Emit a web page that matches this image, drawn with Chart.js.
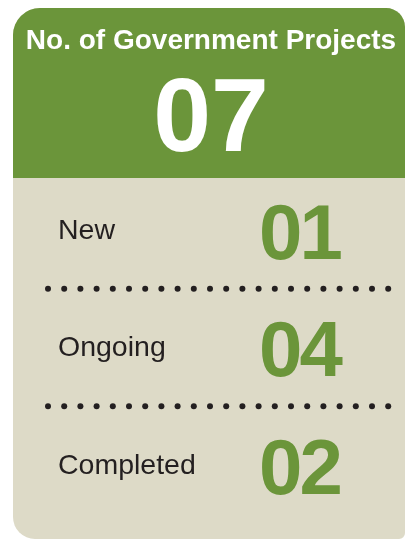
<!DOCTYPE html>
<html>
<head>
<meta charset="utf-8">
<style>
  html, body { margin: 0; padding: 0; background: #fff; }
  canvas { display: block; }
</style>
<script src="https://cdn.jsdelivr.net/npm/chart.js@4.4.0/dist/chart.umd.min.js"></script>
</head>
<body>
<canvas id="myChart" width="406" height="542"></canvas>
<script>
var cardTitle = 'No. of Government Projects';
var totalProjects = 7;
var categories = ['New', 'Ongoing', 'Completed'];
var projectCounts = [1, 4, 2];

var green = 'rgb(107, 149, 58)';
var beige = 'rgb(221, 218, 199)';
var ink = '#231f20';
var family = "'Liberation Sans', Arial, sans-serif";

function twoDigits(v) {
    return String(v).padStart(2, '0');
}

function roundRect(ctx, x, y, w, h, r) {
    // r = [topLeft, topRight, bottomRight, bottomLeft]
    ctx.beginPath();
    ctx.moveTo(x + r[0], y);
    ctx.lineTo(x + w - r[1], y);
    ctx.arcTo(x + w, y, x + w, y + r[1], r[1]);
    ctx.lineTo(x + w, y + h - r[2]);
    ctx.arcTo(x + w, y + h, x + w - r[2], y + h, r[2]);
    ctx.lineTo(x + r[3], y + h);
    ctx.arcTo(x, y + h, x, y + h - r[3], r[3]);
    ctx.lineTo(x, y + r[0]);
    ctx.arcTo(x, y, x + r[0], y, r[0]);
    ctx.closePath();
}

// card background + green header
var cardPlugin = {
    id: 'card',
    beforeDraw: function (chart) {
        var ctx = chart.ctx;
        var left = 13, top = 8, right = 405, bottom = 539;
        var headerBottom = chart.scales.y.top + 6;
        ctx.save();
        roundRect(ctx, left, top, right - left, bottom - top, [27, 19, 6, 22]);
        ctx.fillStyle = beige;
        ctx.fill();
        ctx.clip();
        ctx.fillStyle = green;
        ctx.fillRect(left, top, right - left, headerBottom - top);
        ctx.restore();
    }
};

// big green counts and dotted separators
var countsPlugin = {
    id: 'counts',
    afterDatasetsDraw: function (chart) {
        var ctx = chart.ctx;
        var yScale = chart.scales.y;
        var data = chart.data.datasets[0].data;
        ctx.save();
        ctx.font = 'bold 78px ' + family;
        ctx.letterSpacing = '-3px';
        ctx.fillStyle = green;
        ctx.textAlign = 'left';
        ctx.textBaseline = 'alphabetic';
        data.forEach(function (v, i) {
            var y = yScale.getPixelForValue(i);
            ctx.fillText(twoDigits(v), 259, y + 28);
        });

        ctx.fillStyle = ink;
        for (var i = 0; i < data.length - 1; i++) {
            var yMid = (yScale.getPixelForValue(i) + yScale.getPixelForValue(i + 1)) / 2 - 1;
            for (var x = 48; x <= 389; x += 16.2) {
                ctx.beginPath();
                ctx.arc(x, yMid, 3, 0, Math.PI * 2);
                ctx.fill();
            }
        }
        ctx.restore();
    }
};

var ctx = document.getElementById('myChart').getContext('2d');
var chart = new Chart(ctx, {
    type: 'bar',
    data: {
        labels: categories,
        datasets: [{
            label: 'Projects',
            data: projectCounts,
            backgroundColor: 'rgba(0,0,0,0)',
            borderWidth: 0
        }]
    },
    options: {
        indexAxis: 'y',
        responsive: false,
        animation: false,
        devicePixelRatio: 1,
        layout: {
            padding: { left: 16, right: 0, top: 8, bottom: 0 }
        },
        scales: {
            x: { display: false, min: 0, max: 5 },
            y: {
                offset: true,
                grid: { display: false },
                border: { display: false },
                ticks: {
                    mirror: true,
                    crossAlign: 'near',
                    padding: 0,
                    color: ink,
                    font: { family: family, size: 28.5 }
                },
                afterFit: function (scale) {
                    scale.width = 42;
                }
            }
        },
        plugins: {
            legend: { display: false },
            tooltip: { enabled: false },
            title: {
                display: true,
                text: cardTitle,
                color: '#ffffff',
                font: { family: family, size: 28, weight: 'bold' },
                padding: { top: 16, bottom: 0 }
            },
            subtitle: {
                display: true,
                text: twoDigits(totalProjects),
                color: '#ffffff',
                font: { family: family, size: 104, weight: 'bold', lineHeight: 0.95 },
                padding: { top: 15.6, bottom: 0 }
            }
        }
    },
    plugins: [cardPlugin, countsPlugin]
});
</script>
</body>
</html>
